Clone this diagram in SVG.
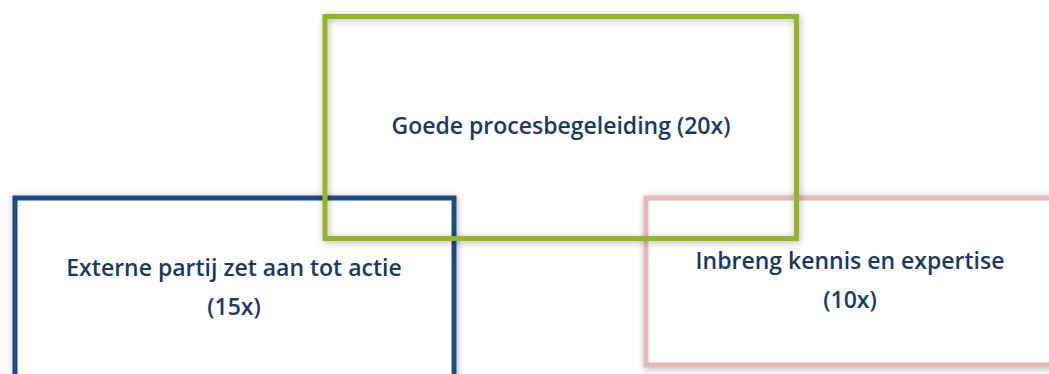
<svg xmlns="http://www.w3.org/2000/svg" width="1049" height="374" viewBox="0 0 1049 374">
<defs>
<filter id="sh" x="-10%" y="-10%" width="120%" height="130%">
<feDropShadow dx="1" dy="1.5" stdDeviation="3.5" flood-color="#000" flood-opacity="0.3"/>
</filter>
</defs>
<style>
.box{stroke-width:5;filter:url(#sh)}
.t{font-family:"Open Sans",Lato,sans-serif;font-weight:600;font-size:23px;fill:#1B3A63;text-anchor:middle}
</style>
<rect width="1049" height="374" fill="#fff"/>
<g id="node-externe">
<rect class="box" x="15" y="198" width="439" height="190" fill="#fff" stroke="#1F4C82"/>
<text class="t" x="234" y="276">Externe partij zet aan tot actie</text>
<text class="t" x="234" y="315">(15x)</text>
</g>
<g id="node-inbreng">
<rect class="box" x="646" y="198" width="420" height="167" fill="#fff" stroke="#E8B8B8"/>
<text class="t" x="850" y="269">Inbreng kennis en expertise</text>
<text class="t" x="850" y="308">(10x)</text>
</g>
<g id="node-goede">
<rect class="box" x="325" y="16.5" width="471.5" height="222" fill="none" stroke="#96B42C"/>
<text class="t" x="561" y="134">Goede procesbegeleiding (20x)</text>
</g>
<g id="connectors"/>
</svg>
